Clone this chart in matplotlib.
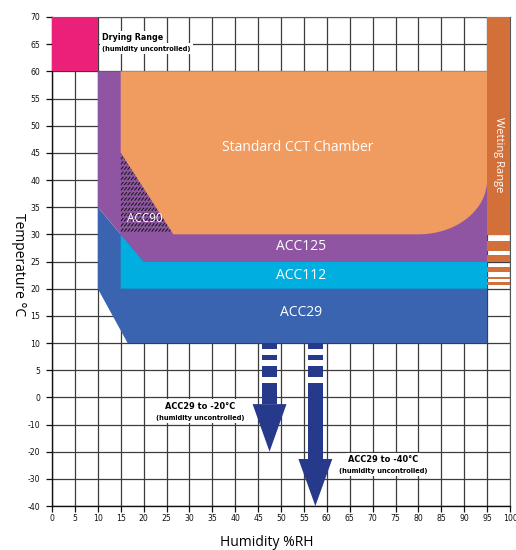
import numpy as np
import matplotlib
matplotlib.use("Agg")
import matplotlib.pyplot as plt
from matplotlib.patches import Polygon
from matplotlib.collections import LineCollection

# ── data (humidity %RH, temperature degC) ───────────────────────────────────
rh_ticks = np.arange(0, 101, 5)
temp_ticks = [70, 65, 60, 55, 50, 45, 40, 35, 30, 25, 20, 15, 10, 5, 0, -10, -20, -30, -40]

drying_rh = [0, 10, 10, 0];            drying_t = [60, 60, 70, 70]
wet_rh = [95, 100];                    wet_t = [29.8, 70]
wet_stripes = [(27.0, 28.8), (25.0, 26.2), (23.1, 24.0), (21.7, 22.2), (20.7, 21.2)]
acc29_rh = [10, 15, 95, 95, 16.5, 10]; acc29_t = [35, 30, 30, 10, 10, 20]
acc112_rh = [15, 20, 95, 95, 15];      acc112_t = [30, 25, 25, 20, 20]
acc125_rh = [10, 95, 95, 20, 15, 10];  acc125_t = [60, 60, 25, 25, 30, 35]
acc90_rh = [15, 26.5, 15];             acc90_t = [45, 30, 30]
cct_rh = [15, 95, 95];                 cct_t = [60, 60, 40]
cct_corner = (80, 40, 15, 10)          # centre rh, centre t, radius rh, radius t
cct_tail_rh = [80, 26.5, 15];          cct_tail_t = [30, 30, 45]

arrow_rh = [47.5, 57.5]
arrow_half = [1.6, 1.7]
head_half = [3.7, 3.7]
head_base = [-2.5, -22.7]
arrow_tip = [-20, -40]
shaft_dash = [(10, 8.9), (7.8, 6.9), (5.8, 3.7), (2.6, None)]

PINK = "#EB2079"; WET = "#D3703A"; BLUE = "#3A64B0"; CYAN = "#00AEE0"
PURPLE = "#8F55A2"; ORANGE = "#F09C61"; NAVY = "#27398A"
NARROW = dict(family="DejaVu Sans", fontstretch="condensed")
BODY = ["Open Sans", "DejaVu Sans"]

def fwd(t):
    t = np.asarray(t, float); return np.where(t >= 0, t / 5.0, t / 10.0)
def inv(p):
    p = np.asarray(p, float); return np.where(p >= 0, p * 5.0, p * 10.0)

fig = plt.figure(figsize=(5.16, 5.5), dpi=100, facecolor="white")
ax = fig.add_axes([52 / 516, 1 - 506 / 550, 458 / 516, 489 / 550])
ax.set_yscale("function", functions=(fwd, inv))
ax.set_xlim(0, 100); ax.set_ylim(-40, 70)
ax.set_xticks(rh_ticks); ax.set_yticks(temp_ticks)
ax.set_xticklabels([str(v) for v in rh_ticks], fontsize=6.2, **NARROW)
ax.set_yticklabels([str(v) for v in temp_ticks], fontsize=6.2, **NARROW)
ax.tick_params(direction="out", length=4, width=0.9, colors="#111111")
ax.tick_params(axis="x", pad=2); ax.tick_params(axis="y", pad=4.5)
ax.set_axisbelow(True)
ax.grid(True, color="#3c3c3c", lw=0.9)
for s in ("top", "right"): ax.spines[s].set_color("#555555"); ax.spines[s].set_linewidth(0.8)
for s in ("left", "bottom"): ax.spines[s].set_color("#111111"); ax.spines[s].set_linewidth(1.0)

def poly(xs, ys, fc, z=3, **kw):
    p = Polygon(np.column_stack([xs, ys]), closed=True, fc=fc, ec="none", zorder=z, **kw)
    ax.add_patch(p); return p

poly(drying_rh, drying_t, PINK)
poly(acc29_rh, acc29_t, BLUE)
poly(acc112_rh, acc112_t, CYAN)
poly(acc125_rh, acc125_t, PURPLE)
th = np.linspace(0, -np.pi / 2, 40)
cx, ct, rx, rt = cct_corner
poly(cct_rh + list(cx + rx * np.cos(th)) + cct_tail_rh,
     cct_t + list(ct + rt * np.sin(th)) + cct_tail_t, ORANGE, z=3.2)

# wetting range bar
poly([wet_rh[0], wet_rh[1], wet_rh[1], wet_rh[0]], [wet_t[0], wet_t[0], wet_t[1], wet_t[1]], WET, z=3.3)
for lo, hi in wet_stripes:
    poly([wet_rh[0], wet_rh[1], wet_rh[1], wet_rh[0]], [lo, lo, hi, hi], WET, z=3.3)

# ACC90 hatching (rows of short diagonal strokes)
tri = poly(acc90_rh, acc90_t, "none", z=3.4)
segs = []
for t in np.arange(30.8, 45.5, 0.95):
    for x in np.arange(15.0, 27.0, 0.75):
        segs.append([(x, t - 0.3), (x + 0.6, t + 0.3)])
lc = LineCollection(segs, colors="#1a1a1a", lw=0.75, zorder=3.5)
ax.add_collection(lc); lc.set_clip_path(tri)

# arrows
for xc, hw, hh, hb, tip in zip(arrow_rh, arrow_half, head_half, head_base, arrow_tip):
    for top, bot in shaft_dash:
        bot = hb if bot is None else bot
        poly([xc - hw, xc + hw, xc + hw, xc - hw], [top, top, bot, bot], NAVY, z=4)
    poly([xc - hh, xc + hh, xc], [hb, hb, tip], NAVY, z=4)

# region labels
wt = dict(color="white", family=BODY, ha="center", va="center", zorder=6)
ax.text(53.7, 46, "Standard CCT Chamber", fontsize=10, **wt)
ax.text(54.3, 27.8, "ACC125", fontsize=10, **wt)
ax.text(54.3, 22.5, "ACC112", fontsize=10, **wt)
ax.text(54.3, 15.6, "ACC29", fontsize=10, **wt)
ax.text(20.2, 33.0, "ACC90", fontsize=8.5, **wt)
ax.text(97.5, 44.6, "Wetting Range", fontsize=8, rotation=-90, **wt)

box = dict(fc="white", ec="none", pad=1.5)
ax.text(11.0, 66.3, "Drying Range", fontsize=6.4, fontweight="bold",
        ha="left", va="center", bbox=box, zorder=6, **NARROW)
ax.text(11.0, 64.2, "(humidity uncontrolled)", fontsize=5.3, fontweight="bold",
        ha="left", va="center", bbox=box, zorder=6, **NARROW)
ax.text(32.3, -3.2, "ACC29 to -20°C", fontsize=6.6, fontweight="bold",
        ha="center", va="center", bbox=box, zorder=6, **NARROW)
ax.text(32.3, -7.6, "(humidity uncontrolled)", fontsize=5.3, fontweight="bold",
        ha="center", va="center", bbox=box, zorder=6, **NARROW)
ax.text(72.3, -23.0, "ACC29 to -40°C", fontsize=6.6, fontweight="bold",
        ha="center", va="center", bbox=box, zorder=6, **NARROW)
ax.text(72.3, -27.1, "(humidity uncontrolled)", fontsize=5.3, fontweight="bold",
        ha="center", va="center", bbox=box, zorder=6, **NARROW)

fig.text(267 / 516, 1 - 543 / 550, "Humidity %RH", fontsize=10, family=BODY, ha="center", va="center")
fig.text(18 / 516, 1 - 265 / 550, "Temperature °C", fontsize=10, family=BODY, rotation=-90,
         ha="center", va="center")

fig.savefig("out.png", dpi=100, facecolor="white")
